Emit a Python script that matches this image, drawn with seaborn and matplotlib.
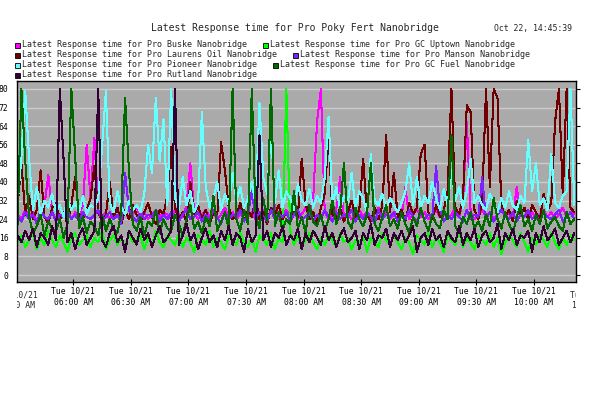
import matplotlib; matplotlib.use("Agg")
import matplotlib.pyplot as plt
import matplotlib.dates as mdates
from matplotlib.patches import Rectangle
from matplotlib.transforms import Bbox, TransformedBbox
import numpy as np
import pandas as pd
import seaborn as sns

# ── data: one sample every 2 min from 05:31 ──────────────────────────────────
series_names = [
    "Latest Response time for Pro Buske Nanobridge",
    "Latest Response time for Pro GC Uptown Nanobridge",
    "Latest Response time for Pro Laurens Oil Nanobridge",
    "Latest Response time for Pro Manson Nanobridge",
    "Latest Response time for Pro Pioneer Nanobridge",
    "Latest Response time for Pro GC Fuel Nanobridge",
    "Latest Response time for Pro Rutland Nanobridge",
]
series_colors = ["#ff00ff", "#00ff00", "#700000", "#8020ff",
                 "#66ffff", "#006a00", "#330033"]

buske = [26, 24, 28, 25, 27, 23, 26, 30, 43, 27, 24, 26, 25, 28, 24, 27, 26, 30, 56, 33,
         59, 28, 25, 27, 24, 26, 28, 25, 27, 24, 26, 29, 25, 27, 24, 26, 28, 25, 27, 26,
         24, 28, 26, 25, 30, 48, 27, 24, 26, 28, 25, 27, 24, 26, 29, 25, 27, 24, 26, 28,
         25, 27, 24, 26, 28, 25, 27, 30, 24, 26, 28, 25, 27, 24, 26, 29, 25, 33, 66, 80,
         27, 24, 26, 28, 42, 25, 27, 24, 26, 28, 25, 27, 24, 26, 29, 25, 27, 24, 26, 28,
         25, 38, 24, 26, 28, 25, 27, 24, 26, 28, 25, 27, 24, 26, 29, 25, 31, 66, 27, 24,
         26, 28, 25, 27, 24, 26, 28, 25, 27, 24, 38, 26, 29, 25, 27, 24, 26, 28, 25, 27,
         24, 26, 29, 25, 27, 26]
gc_uptown = [14, 17, 12, 15, 18, 11, 16, 13, 19, 15, 12, 17, 14, 10, 16, 18, 13, 15, 17, 12,
             16, 14, 19, 11, 15, 17, 13, 16, 12, 18, 14, 15, 17, 11, 16, 13, 19, 14, 12, 17,
             15, 13, 18, 12, 16, 14, 10, 17, 15, 13, 19, 12, 16, 14, 11, 17, 15, 13, 18, 14,
             12, 16, 10, 17, 15, 13, 18, 11, 16, 14, 80, 19, 13, 17, 12, 15, 18, 14, 11, 16,
             13, 17, 15, 12, 18, 14, 16, 11, 15, 13, 17, 10, 16, 14, 12, 18, 15, 13, 17, 14,
             11, 16, 14, 9, 17, 15, 13, 18, 12, 16, 14, 10, 17, 15, 13, 19, 12, 16, 14, 11,
             17, 15, 13, 18, 12, 16, 9, 14, 17, 15, 12, 18, 14, 10, 16, 13, 17, 15, 12, 18,
             14, 11, 16, 13, 17, 15]
laurens = [30, 48, 26, 34, 24, 28, 45, 25, 22, 29, 31, 24, 27, 23, 30, 42, 26, 24, 28, 33,
           47, 27, 23, 26, 40, 25, 29, 22, 28, 24, 30, 26, 23, 27, 31, 25, 22, 28, 26, 34,
           55, 29, 24, 27, 23, 40, 26, 30, 24, 28, 22, 27, 25, 57, 45, 29, 24, 26, 31, 23,
           28, 25, 33, 24, 27, 22, 29, 26, 30, 24, 27, 23, 28, 25, 50, 31, 24, 27, 22, 29,
           35, 60, 26, 24, 29, 23, 27, 32, 25, 28, 50, 26, 23, 29, 24, 30, 60, 27, 44, 25,
           28, 23, 31, 26, 29, 52, 56, 27, 24, 30, 25, 28, 36, 80, 29, 26, 33, 73, 70, 28,
           24, 31, 80, 38, 80, 76, 30, 25, 28, 23, 32, 26, 29, 24, 30, 27, 23, 35, 28, 31,
           66, 80, 34, 80, 29, 27]
manson = [25, 23, 27, 24, 26, 22, 28, 25, 24, 27, 23, 26, 25, 28, 24, 26, 23, 27, 25, 24,
          26, 28, 23, 25, 27, 24, 26, 22, 44, 28, 25, 23, 27, 24, 26, 25, 28, 23, 26, 24,
          27, 25, 23, 26, 28, 24, 25, 27, 23, 26, 24, 28, 25, 22, 27, 24, 26, 25, 28, 23,
          26, 36, 24, 27, 25, 23, 28, 24, 26, 25, 27, 23, 26, 28, 24, 25, 27, 23, 26, 24,
          28, 25, 23, 27, 24, 26, 25, 28, 23, 26, 24, 27, 25, 22, 28, 24, 26, 25, 27, 23,
          26, 24, 28, 25, 23, 27, 24, 26, 25, 47, 28, 23, 26, 24, 27, 25, 23, 28, 24, 26,
          25, 42, 24, 27, 23, 26, 28, 25, 24, 27, 23, 26, 25, 28, 24, 26, 23, 27, 25, 24,
          26, 28, 23, 25, 27, 24]
pioneer = [30, 51, 79, 50, 28, 38, 26, 32, 29, 35, 27, 30, 25, 33, 28, 31, 27, 34, 26, 30,
           29, 33, 55, 79, 31, 27, 36, 29, 26, 32, 28, 30, 27, 35, 56, 44, 76, 49, 67, 30,
           80, 33, 28, 42, 30, 36, 27, 31, 70, 38, 29, 33, 40, 28, 35, 30, 44, 32, 38, 29,
           33, 40, 30, 74, 42, 35, 63, 31, 45, 29, 36, 33, 28, 39, 32, 30, 37, 29, 34, 31,
           42, 68, 30, 38, 28, 34, 31, 44, 29, 36, 33, 27, 52, 32, 30, 35, 28, 33, 30, 27,
           31, 36, 48, 30, 42, 29, 34, 31, 40, 33, 28, 37, 30, 45, 32, 38, 29, 36, 50, 31,
           34, 30, 28, 35, 31, 27, 33, 29, 36, 30, 28, 34, 31, 58, 36, 48, 30, 33, 28, 52,
           31, 29, 34, 36, 80, 30]
gc_fuel = [22, 80, 49, 25, 18, 21, 26, 17, 23, 20, 19, 24, 16, 22, 80, 51, 20, 25, 18, 23,
           21, 17, 26, 19, 24, 20, 18, 27, 76, 45, 22, 19, 25, 17, 23, 21, 28, 18, 24, 20,
           19, 26, 22, 17, 24, 30, 20, 23, 18, 25, 21, 34, 19, 23, 27, 20, 80, 24, 19, 28,
           22, 80, 26, 20, 33, 23, 80, 21, 27, 19, 24, 22, 36, 20, 25, 18, 30, 23, 21, 26,
           19, 24, 32, 22, 27, 48, 23, 20, 29, 24, 21, 26, 48, 22, 19, 25, 30, 21, 24, 20,
           27, 22, 18, 25, 21, 29, 23, 19, 26, 22, 20, 28, 24, 60, 21, 18, 25, 22, 27, 20,
           23, 19, 26, 21, 33, 24, 20, 27, 22, 18, 25, 30, 21, 24, 19, 26, 22, 28, 20, 23,
           25, 21, 19, 27, 22, 24]
rutland = [17, 14, 19, 15, 20, 12, 18, 16, 13, 21, 15, 80, 49, 14, 18, 11, 17, 20, 13, 16,
           19, 80, 15, 12, 18, 21, 14, 17, 10, 19, 16, 13, 20, 15, 18, 12, 17, 21, 14, 16,
           19, 80, 13, 17, 22, 15, 18, 11, 16, 20, 14, 17, 12, 19, 15, 21, 13, 18, 16, 10,
           20, 14, 17, 60, 15, 19, 12, 18, 16, 21, 13, 17, 15, 20, 11, 18, 14, 19, 16, 13,
           21, 15, 18, 12, 17, 20, 14, 16, 19, 11, 18, 15, 22, 13, 17, 16, 20, 12, 18, 15,
           19, 14, 17, 21, 10, 16, 18, 13, 20, 15, 17, 12, 19, 16, 14, 21, 13, 18, 15, 20,
           12, 17, 19, 14, 16, 22, 11, 18, 15, 20, 13, 17, 16, 19, 10, 18, 14, 21, 15, 17,
           20, 13, 16, 19, 14, 18]

y_ticks = [0, 8, 16, 24, 32, 40, 48, 56, 64, 72, 80]
title = "Latest Response time for Pro Poky Fert Nanobridge"
stamp = "Oct 22, 14:45:39"

# ── long-form table ──────────────────────────────────────────────────────────
times = pd.date_range("2025-10-21 05:31", periods=len(buske), freq="2min")
wide = pd.DataFrame(dict(zip(series_names,
                             [buske, gc_uptown, laurens, manson, pioneer, gc_fuel, rutland])),
                    index=times)
wide.index.name = "time"
long = wide.reset_index().melt(id_vars="time", var_name="series", value_name="value")

# ── figure ───────────────────────────────────────────────────────────────────
W, H = 616, 393
sns.set_theme(style="white", rc={"axes.facecolor": "#aaaaaa",
                                 "axes.edgecolor": "black",
                                 "axes.linewidth": 1.0})
plt.rcParams["font.family"] = ["DejaVu Sans Mono"]

fig = plt.figure(figsize=(W / 100, H / 100), dpi=100)
ax = fig.add_axes([17 / W, 1 - 282 / H, (576 - 17) / W, (282 - 81) / H])

# thin aliased lines, like the rrd original
sns.lineplot(data=long, x="time", y="value", hue="series",
             hue_order=series_names, palette=series_colors,
             estimator=None, legend=False, ax=ax,
             linewidth=0.75, antialiased=False)

ax.set_xlim(pd.Timestamp("2025-10-21 05:30:42"), pd.Timestamp("2025-10-21 10:21:53"))
ax.set_ylim(-3, 83.4)
ax.set_yticks(y_ticks)
ax.yaxis.grid(True, color="#cccccc", lw=1.0)
ax.set_axisbelow(True)
ax.set_xlabel(""); ax.set_ylabel("")

ax.xaxis.set_major_locator(mdates.MinuteLocator(byminute=[0, 30]))
ax.xaxis.set_major_formatter(mdates.DateFormatter("%a %m/%d\n%I:%M %p"))
ax.tick_params(axis="x", bottom=True, direction="inout", length=5, width=0.8,
               pad=1, labelsize=5.8, colors="black")
ax.tick_params(axis="y", left=False, right=True, labelleft=True, direction="out",
               length=3, width=0.8, pad=3, labelsize=5.8, colors="black")
for lbl in ax.get_xticklabels():
    lbl.set_linespacing(1.25)

# half-visible labels just outside both ends, clipped to the plot width
clip = TransformedBbox(Bbox([[17 / W, 0], [576 / W, 1]]), fig.transFigure)
for edge in ["2025-10-21 05:30", "2025-10-21 10:30"]:
    t = pd.Timestamp(edge)
    txt = ax.text(mdates.date2num(t), -0.04, t.strftime("%a %m/%d\n%I:%M %p"),
                  transform=ax.get_xaxis_transform(), ha="center", va="top",
                  fontsize=5.8, linespacing=1.25, clip_on=True)
    txt.set_clip_box(clip)

# title + timestamp
fig.text(295 / W, 1 - 27.7 / H, title, ha="center", va="center", fontsize=7.0)
fig.text(494 / W, 1 - 29 / H, stamp, ha="left", va="center", fontsize=5.9)

# legend laid out in rows like the original
legend_rows = [44.3, 54.3, 64.3, 74.3]
legend_x = [15, 263, 15, 293, 15, 273, 15]
legend_row_idx = [0, 0, 1, 1, 2, 2, 3]
for name, col, sx, r in zip(series_names, series_colors, legend_x, legend_row_idx):
    yc = legend_rows[r]
    fig.add_artist(Rectangle((sx / W, 1 - (yc + 3.5) / H), 5 / W, 5 / H,
                             transform=fig.transFigure, facecolor=col,
                             edgecolor="black", lw=0.6))
    fig.text((sx + 6.5) / W, 1 - yc / H, name, ha="left", va="center", fontsize=6.0)

fig.savefig("out.png", dpi=100, facecolor="white")
plt.close(fig)
